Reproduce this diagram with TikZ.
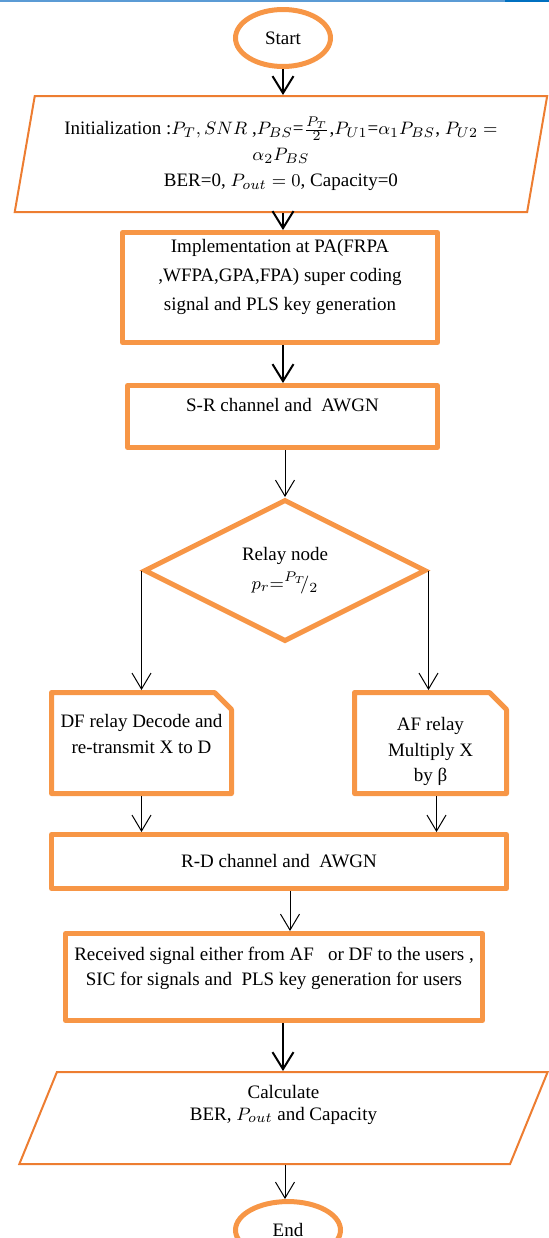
\documentclass[tikz,border=0pt]{standalone}
\usepackage{fontspec}
\setmainfont{Liberation Serif}
\usetikzlibrary{positioning}
\usetikzlibrary{calc}
\usetikzlibrary{arrows.meta}
\usetikzlibrary{shapes.geometric}
\definecolor{boxorange}{RGB}{247,150,70}
\definecolor{lineorange}{RGB}{237,125,49}
\definecolor{edgeblue}{RGB}{91,155,213}
\definecolor{edgedarkblue}{RGB}{0,112,192}

\begin{document}
\begin{tikzpicture}[font=\fontsize{9.5}{13}\selectfont, >=Straight Barb]
    \tikzstyle{terminal}=[draw=boxorange, line width=2.5pt, ellipse, minimum width=47.5pt, minimum height=28.5pt, inner sep=0pt]
    \tikzstyle{block}=[draw=boxorange, line width=2.5pt, rectangle, line join=round, align=center, inner sep=0pt]
    \tikzstyle{iobox}=[draw=lineorange, line width=1pt, trapezium, trapezium stretches=true, align=center, inner sep=0pt]
    \tikzstyle{relaybox}=[rectangle, outer sep=0pt, align=center, inner sep=0pt, minimum height=50.5pt]
    \tikzstyle{snipped}=[draw=boxorange, line width=2.5pt, line join=round]
    \tikzstyle{decision}=[draw=boxorange, line width=2.5pt, diamond, align=center, inner sep=0pt, minimum width=141pt, minimum height=71pt]
    \tikzstyle{bigarrow}=[->, line width=1pt, >={Straight Barb[length=8.5pt, width=10.5pt]}]
    \tikzstyle{smallarrow}=[->, line width=0.5pt, >={Straight Barb[length=8pt, width=9.5pt]}]

    \useasboundingbox (0,0) rectangle (274.5pt,-619pt);
    \clip (0,0) rectangle (274.5pt,-619pt);

    %% page edge
    \draw[edgeblue, line width=1pt] (0,-0.5pt) -- (252.5pt,-0.5pt);
    \draw[edgedarkblue, line width=1pt] (252.5pt,-0.5pt) -- (274.5pt,-0.5pt);

    \node[terminal] (start) at (141.5pt,-19pt) {Start};

    %% Initialization
    \node[iobox, below=13pt of start, xshift=-1pt, trapezium left angle=76.5, trapezium right angle=103.5, minimum width=267pt, minimum height=58pt] (init)
        {Initialization :$P_T, SNR$ ,$P_{BS}$=$\frac{P_T}{2}$,$P_{U1}$=$\alpha_1 P_{BS}$, $P_{U2}=$\\$\alpha_2 P_{BS}$\\BER=0, $P_{out}=0$, Capacity=0};

    \node[block, below=8.5pt of init, xshift=-0.5pt, minimum width=157.5pt, minimum height=55pt, text depth=12.5pt, font=\fontsize{9.5}{14.5}\selectfont] (impl)
        {Implementation at PA(FRPA\\,WFPA,GPA,FPA) super coding\\signal and PLS key generation};
    \node[block, below=19pt of impl, xshift=1.25pt, minimum width=155pt, minimum height=31pt, text depth=11.5pt] (sr)
        {S-R channel and\ \ AWGN};

    %% Relay
    \node[decision, below=23.5pt of sr, xshift=1.25pt] (dec)
        {Relay node\\[1.5pt]$p_r{=}^{P_T}\!\!/_{2}$};
    \node[relaybox, below=24.25pt of dec, xshift=-71.75pt, minimum width=90pt, text depth=9.5pt] (df)
        {DF relay Decode and\\re-transmit X to D};
    \node[relaybox, below=24.25pt of dec, xshift=72.75pt, minimum width=76pt, text height=41pt, font=\fontsize{9.5}{12.75}\selectfont] (af)
        {AF relay\\Multiply X\\by β};
    \draw[snipped] (df.south west) -- (df.north west) -- ([xshift=-8.5pt]df.north east) -- ([yshift=-8.5pt]df.north east) -- (df.south east) -- cycle;
    \draw[snipped] (af.south west) -- (af.north west) -- ([xshift=-8.5pt]af.north east) -- ([yshift=-8.5pt]af.north east) -- (af.south east) -- cycle;

    \node[block, below=94pt of dec, xshift=-3pt, minimum width=227.5pt, minimum height=27pt] (rd)
        {R-D channel and\ \ AWGN};
    \node[block, below=20pt of rd, xshift=-2.5pt, minimum width=208.5pt, minimum height=43.5pt, text depth=10.5pt, font=\fontsize{9.5}{12.5}\selectfont] (recv)
        {Received signal either from AF\ \ \ or DF to the users ,\\SIC for signals and\ \ PLS key generation for users};

    \node[iobox, below=24pt of recv, xshift=4.75pt, trapezium left angle=76.8, trapezium right angle=103.2, minimum width=264.5pt, minimum height=46pt, text depth=15.5pt, font=\fontsize{9.5}{11}\selectfont] (calc)
        {Calculate\\BER, $P_{out}$ and Capacity};
    \node[terminal, below=17pt of calc, xshift=2.25pt, minimum width=52.5pt] (end) {End};

    \draw[bigarrow] (start.south) -- (init.north -| start.south);
    \draw[bigarrow] (init.south -| start) -- (impl.north -| start);
    \draw[bigarrow] (impl.south -| start) -- (sr.north -| start);
    \draw[smallarrow] (sr.south -| dec) -- (dec.north);
    \draw[smallarrow] (dec.west) -- ([yshift=1.25pt]dec.west |- df.north);
    \draw[smallarrow] (dec.east) -- ([yshift=1.25pt]dec.east |- af.north);
    \draw[smallarrow] ([yshift=-1.25pt]df.south) -- (df.south |- rd.north);
    \draw[smallarrow] ([shift={(3pt,-1.25pt)}]af.south) -- ([xshift=3pt]af.south |- rd.north);
    \draw[smallarrow] ([xshift=5.5pt]rd.south) -- ([xshift=5.5pt]rd.south |- recv.north);
    \draw[bigarrow] (recv.south -| start) -- (calc.north -| start);
    \draw[smallarrow] (calc.south -| dec) -- (end.north -| dec);
\end{tikzpicture}
\end{document}
